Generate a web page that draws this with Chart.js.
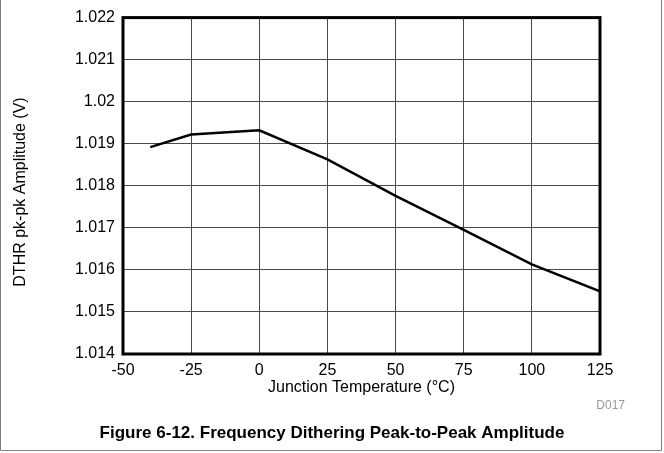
<!DOCTYPE html>
<html>
<head>
<meta charset="utf-8">
<script src="https://cdn.jsdelivr.net/npm/chart.js@4/dist/chart.umd.min.js"></script>
<style>
  html, body { margin: 0; padding: 0; background: #fff; }
  #wrap { position: relative; width: 664px; height: 453px; }
  canvas { display: block; }
</style>
</head>
<body>
<div id="wrap"><canvas id="c" width="664" height="453"></canvas></div>
<script>
// ---- data ----
const temperatures = [-40, -25, 0, 25, 50, 75, 100, 125];
const amplitudes = [1.01892, 1.01922, 1.01932, 1.01863, 1.01776, 1.01695, 1.01613, 1.01549];
const xTickLabels = ['-50', '-25', '0', '25', '50', '75', '100', '125'];
const yTickLabels = ['1.014', '1.015', '1.016', '1.017', '1.018', '1.019', '1.02', '1.021', '1.022'];
const xTitle = 'Junction Temperature (\u00B0C)';
const yTitle = 'DTHR pk-pk Amplitude (V)';
const figureCaption = 'Figure 6-12. Frequency Dithering Peak-to-Peak Amplitude';
const figureCode = 'D017';

const FONT = "'Liberation Sans', Arial, Helvetica, sans-serif";

const framePlugin = {
  id: 'frame',
  afterDraw(chart) {
    const {ctx, chartArea: a} = chart;
    ctx.save();
    // plot frame
    ctx.strokeStyle = '#000';
    ctx.lineWidth = 3;
    ctx.strokeRect(a.left, a.top, a.right - a.left, a.bottom - a.top);
    // outer figure border (left, right, bottom)
    ctx.strokeStyle = '#808080';
    ctx.lineWidth = 1;
    ctx.beginPath();
    ctx.moveTo(0.5, 0); ctx.lineTo(0.5, 450.5);
    ctx.lineTo(661.5, 450.5); ctx.lineTo(661.5, 0);
    ctx.stroke();
    // y axis title
    ctx.fillStyle = '#000';
    ctx.font = '16px ' + FONT;
    ctx.textAlign = 'center';
    ctx.textBaseline = 'middle';
    ctx.translate(21, 192);
    ctx.rotate(-Math.PI / 2);
    ctx.fillText(yTitle, 0, 0);
    ctx.setTransform(1, 0, 0, 1, 0, 0);
    // code label
    ctx.fillStyle = '#999';
    ctx.font = '12px ' + FONT;
    ctx.textAlign = 'right';
    ctx.textBaseline = 'middle';
    ctx.fillText(figureCode, 625, 406);
    // caption
    ctx.fillStyle = '#000';
    ctx.font = 'bold 17px ' + FONT;
    ctx.textAlign = 'center';
    ctx.fillText(figureCaption, 332, 433);
    ctx.restore();
  }
};

new Chart(document.getElementById('c'), {
  type: 'line',
  data: {
    datasets: [{
      data: temperatures.map((t, i) => ({x: t, y: amplitudes[i]})),
      borderColor: '#000',
      borderWidth: 2.5,
      pointRadius: 0,
      tension: 0,
      fill: false
    }]
  },
  options: {
    responsive: false,
    animation: false,
    devicePixelRatio: 1,
    layout: { padding: { top: 15, right: 64, left: 0, bottom: 0 } },
    plugins: { legend: { display: false }, tooltip: { enabled: false } },
    scales: {
      x: {
        type: 'linear',
        min: -50, max: 125,
        afterFit: (s) => { s.height = 99; },
        ticks: {
          stepSize: 25,
          padding: 7,
          color: '#000',
          font: { family: FONT, size: 16 },
          maxRotation: 0,
          callback: (v, i) => xTickLabels[i]
        },
        grid: { color: '#4a4a4a', lineWidth: 1, drawTicks: false },
        border: { display: false },
        title: {
          display: true, text: xTitle, color: '#000',
          font: { family: FONT, size: 16 },
          padding: { top: 0, bottom: 56 }
        }
      },
      y: {
        type: 'linear',
        min: 1.014, max: 1.022,
        afterFit: (s) => { s.width = 123; },
        ticks: {
          stepSize: 0.001,
          padding: 8,
          color: '#000',
          font: { family: FONT, size: 16 },
          callback: (v, i) => yTickLabels[i]
        },
        grid: { color: '#4a4a4a', lineWidth: 1, drawTicks: false },
        border: { display: false },
        title: { display: false }
      }
    }
  },
  plugins: [framePlugin]
});
</script>
</body>
</html>
